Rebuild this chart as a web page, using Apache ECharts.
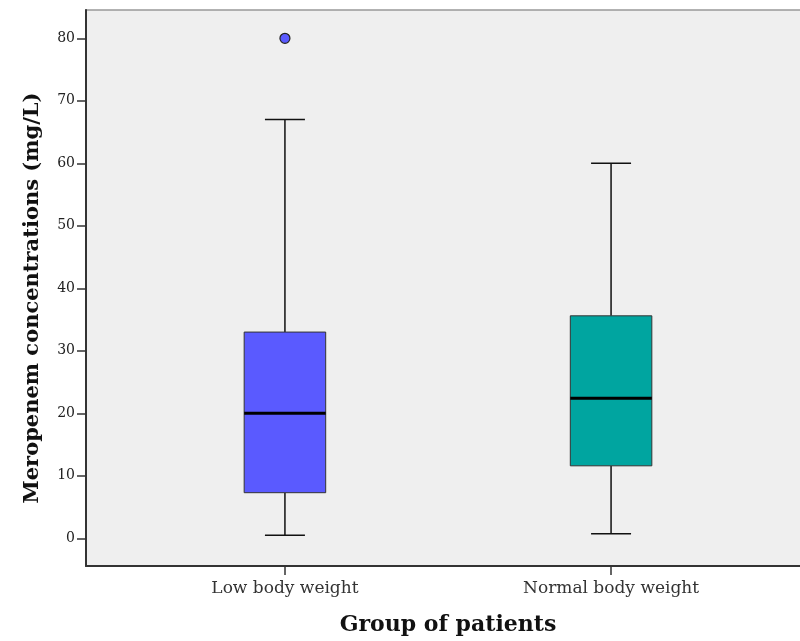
<!DOCTYPE html>
<html>
<head>
<meta charset="utf-8">
<script src="https://cdn.jsdelivr.net/npm/echarts@6/dist/echarts.min.js"></script>
<style>html,body{margin:0;padding:0;background:#fff;}#c{width:800px;height:641px;}</style>
</head>
<body>
<div id="c"></div>
<script>
const categories = ['Low body weight', 'Normal body weight'];
const lowWhisker = [0.5, 0.75];
const q1 = [7.3, 11.6];
const median = [20, 22.4];
const q3 = [33, 35.6];
const highWhisker = [67, 60];
const outlierCategory = [0];
const outlierValue = [80];
const yTicks = [0, 10, 20, 30, 40, 50, 60, 70, 80];
const boxColors = ['#5a5aff', '#00a5a0'];

const boxData = categories.map((c, i) => [i, lowWhisker[i], q1[i], median[i], q3[i], highWhisker[i]]);
const outlierData = outlierCategory.map((c, i) => [c, outlierValue[i]]);

const chart = echarts.init(document.getElementById('c'), null, {renderer: 'canvas'});
const serif = 'DejaVu Serif';

function renderBox(params, api) {
  const x = api.value(0);
  const lo = api.value(1), a = api.value(2), m = api.value(3), b = api.value(4), hi = api.value(5);
  const hw = 0.125, cw = 0.0613;
  const pLT = api.coord([x - hw, b]);
  const pRB = api.coord([x + hw, a]);
  const pMl = api.coord([x - hw, m]);
  const pMr = api.coord([x + hw, m]);
  const pLo = api.coord([x, lo]);
  const pHi = api.coord([x, hi]);
  const pA = api.coord([x, a]);
  const pB = api.coord([x, b]);
  const capL = api.coord([x - cw, 0])[0];
  const capR = api.coord([x + cw, 0])[0];
  const ls = {stroke: '#111', lineWidth: 1.5};
  return {
    type: 'group',
    children: [
      {type: 'line', shape: {x1: pHi[0], y1: pHi[1], x2: pB[0], y2: pB[1]}, style: ls},
      {type: 'line', shape: {x1: pA[0], y1: pA[1], x2: pLo[0], y2: pLo[1]}, style: ls},
      {type: 'line', shape: {x1: capL, y1: pHi[1], x2: capR, y2: pHi[1]}, style: ls},
      {type: 'line', shape: {x1: capL, y1: pLo[1], x2: capR, y2: pLo[1]}, style: ls},
      {type: 'rect', shape: {x: pLT[0], y: pLT[1], width: pRB[0] - pLT[0], height: pRB[1] - pLT[1]},
        style: {fill: boxColors[params.dataIndex], stroke: '#333', lineWidth: 1}},
      {type: 'line', shape: {x1: pMl[0], y1: pMl[1], x2: pMr[0], y2: pMr[1]}, style: {stroke: '#000', lineWidth: 3}}
    ]
  };
}

chart.setOption({
  animation: false,
  backgroundColor: '#fff',
  grid: {
    left: 86, top: 10, width: 724, height: 556,
    outerBoundsMode: 'none', containLabel: false,
    show: true, backgroundColor: '#efefef', borderColor: '#999', borderWidth: 1.5
  },
  xAxis: {
    type: 'value', min: -0.61, max: 1.61,
    splitLine: {show: false},
    axisLine: {show: true, onZero: false, lineStyle: {color: '#333', width: 2}},
    axisTick: {show: true, length: 9, customValues: [0, 1], lineStyle: {color: '#333', width: 1.5}},
    axisLabel: {
      customValues: [0, 1], margin: 14,
      formatter: v => categories[Math.round(v)] || '',
      fontFamily: serif, fontSize: 17, color: '#333'
    },
    name: 'Group of patients', nameLocation: 'middle', nameGap: 48,
    nameTextStyle: {fontFamily: serif, fontWeight: 'bold', fontSize: 22, color: '#111'}
  },
  yAxis: {
    type: 'value', min: -4.43, max: 84.53,
    splitLine: {show: false},
    axisLine: {show: true, onZero: false, lineStyle: {color: '#333', width: 2}},
    axisTick: {show: true, length: 9, customValues: yTicks, lineStyle: {color: '#333', width: 1.5}},
    axisLabel: {customValues: yTicks, margin: 11, fontFamily: serif, fontSize: 14, color: '#222'},
    name: 'Meropenem concentrations (mg/L)', nameLocation: 'middle', nameGap: 43,
    nameTextStyle: {fontFamily: serif, fontWeight: 'bold', fontSize: 21, color: '#111', padding: [0, 20, 0, 0]}
  },
  series: [
    {type: 'custom', renderItem: renderBox, data: boxData, encode: {x: 0, y: [1, 2, 3, 4, 5]}, clip: false},
    {type: 'scatter', data: outlierData, symbol: 'circle', symbolSize: 10,
      itemStyle: {color: '#5a5aff', opacity: 1, borderColor: '#222', borderWidth: 1.2}}
  ]
});
</script>
</body>
</html>
